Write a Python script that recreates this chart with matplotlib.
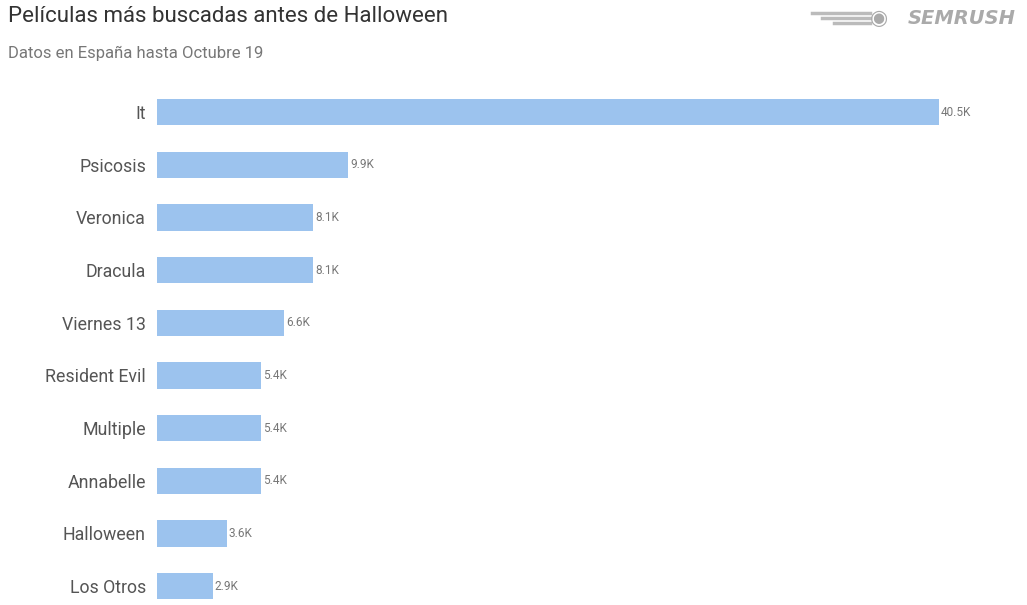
import matplotlib.pyplot as plt

# Data
peliculas = ['It', 'Psicosis', 'Veronica', 'Dracula', 'Viernes 13',
             'Resident Evil', 'Multiple', 'Annabelle', 'Halloween', 'Los Otros']
busquedas = [40.5, 9.9, 8.1, 8.1, 6.6, 5.4, 5.4, 5.4, 3.6, 2.9]  # miles
etiquetas = ['40.5K', '9.9K', '8.1K', '8.1K', '6.6K', '5.4K', '5.4K', '5.4K', '3.6K', '2.9K']

plt.rcParams['font.family'] = ['Roboto', 'DejaVu Sans']

fig = plt.figure(figsize=(10.27, 6.05), dpi=100)
W, H = 1027, 605

# axes placed so bars start at x=157 px
left, right = 157 / W, 939 / W
top = 1 - 85.7 / H
ax = fig.add_axes([left, 0, right - left, top])

y = list(range(len(peliculas)))
ax.barh(y, busquedas, height=0.5, color='#9cc3ee')
ax.set_xlim(0, max(busquedas))
ax.set_ylim(9.36, -0.5)

for yi, v, lab in zip(y, busquedas, etiquetas):
    ax.text(v + 0.1, yi, lab, va='center', ha='left', fontsize=8.5,
            color='#777777', clip_on=False)

ax.set_yticks(y)
ax.set_yticklabels(peliculas, fontsize=12.8, color='#555555')
ax.tick_params(axis='y', length=0, pad=8)
ax.set_xticks([])
for s in ax.spines.values():
    s.set_visible(False)

# Titles
fig.text(8 / W, 1 - 17 / H, 'Películas más buscadas antes de Halloween',
         fontsize=16, color='#333333', va='center', ha='left')
fig.text(8 / W, 1 - 53 / H, 'Datos en España hasta Octubre 19',
         fontsize=12, color='#777777', va='center', ha='left')

# Logo
fig.text(1016 / W, 1 - 18 / H, 'SEMRUSH', fontsize=14, fontweight='bold',
         fontstyle='italic', color='#aaaaaa', va='center', ha='right',
         family=['DejaVu Sans'])
fig.text(879 / W, 1 - 18 / H, '◉', fontsize=15, color='#aaaaaa',
         va='center', ha='center', family=['DejaVu Sans'])
for dy, x0 in [(-5, 812), (0, 822), (5, 834)]:
    fig.add_artist(plt.Line2D([x0 / W, 870 / W], [1 - (18 + dy) / H] * 2,
                              color='#bbbbbb', lw=2.5))

fig.savefig('out.png', dpi=100)
